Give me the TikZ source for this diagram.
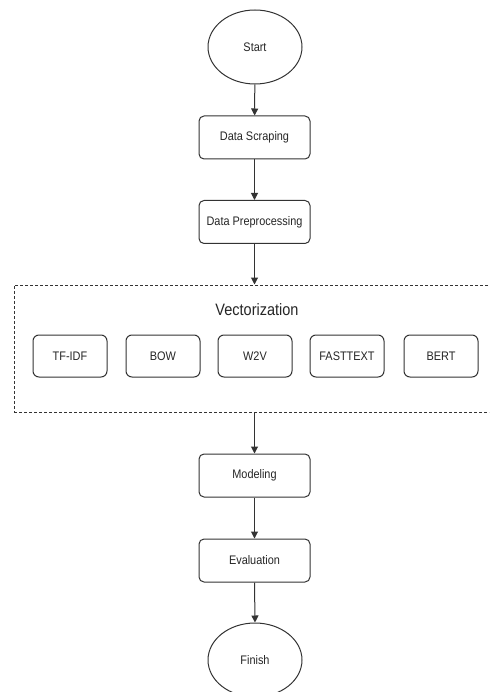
\documentclass[tikz,border=0pt]{standalone}
\usepackage{fontspec}
\setmainfont[FakeStretch=0.88]{Liberation Sans}
\usetikzlibrary{arrows.meta,shapes.geometric}
\begin{document}
\begin{tikzpicture}[x=1pt,y=-1pt,
  line width=1pt,
  every node/.style={draw=black!80, inner sep=0pt, font=\fontsize{12.4}{14}\selectfont, text=black!85},
  proc/.style={rectangle, rounded corners=5pt, minimum width=111pt, minimum height=43pt},
  vbox/.style={rectangle, rounded corners=6pt, minimum width=74pt, minimum height=42pt},
  term/.style={ellipse, minimum width=94pt, minimum height=74pt},
  arr/.style={draw=black!80, -{Triangle[width=7pt,length=7pt]}}]
\clip (0,0) rectangle (489,692);
\fill[white] (0,0) rectangle (489,692);
\node[term] (start) at (255,47) {Start};
\node[proc] (scrape) at (254.5,137.5) {Data Scraping};
\node[proc] (prep) at (254.5,222) {Data Preprocessing};
\node[rectangle, dashed, dash pattern=on 3pt off 2pt, minimum width=486pt, minimum height=127pt] (vec) at (257,348.5) {};
\node[draw=none, font=\fontsize{16.5}{18}\selectfont] (vtitle) at (257,310) {Vectorization};
\node[vbox] (tfidf) at (70,356) {TF-IDF};
\node[vbox] (bow) at (163,356) {BOW};
\node[vbox] (w2v) at (255,356) {W2V};
\node[vbox] (ft) at (347,356) {FASTTEXT};
\node[vbox] (bert) at (441,356) {BERT};
\node[proc] (model) at (254.5,475.5) {Modeling};
\node[proc] (eval) at (254.5,560.5) {Evaluation};
\node[term] (finish) at (255,660) {Finish};
\draw[arr] (start) -- (scrape);
\draw[arr] (scrape) -- (prep);
\draw[arr] (prep.south) -- (prep.south |- vec.north);
\draw[arr] (model.north |- vec.south) -- (model.north);
\draw[arr] (model) -- (eval);
\draw[arr] (eval.south) -- (finish.north);
\end{tikzpicture}
\end{document}
